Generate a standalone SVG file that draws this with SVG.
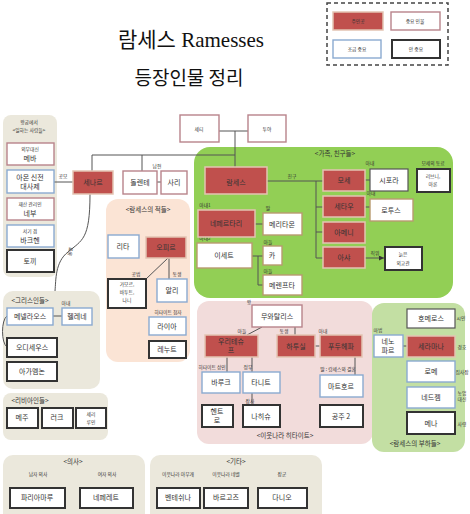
<svg xmlns="http://www.w3.org/2000/svg" width="470" height="514" viewBox="0 0 470 514">
<style>
.red{fill:#c0504d;stroke:#e3c4b3;stroke-width:1.5}
.pk{fill:#fff;stroke:#b8838b;stroke-width:1.4}
.bl{fill:#fff;stroke:#8aaad0;stroke-width:1.4}
.bk{fill:#fff;stroke:#333;stroke-width:2}
.br{fill:#fff;stroke:#b89a70;stroke-width:1.4}
.gy{fill:#fff;stroke:#555;stroke-width:1.2}
.t{font-family:"Noto Sans CJK KR","Noto Sans",sans-serif;font-size:7px;fill:#333;text-anchor:middle}
.s{font-family:"Noto Sans CJK KR","Noto Sans",sans-serif;font-size:4.8px;fill:#333;text-anchor:middle}
.h{font-family:"Noto Sans CJK KR","Noto Sans",sans-serif;font-size:6.5px;fill:#333;text-anchor:middle}
.ln{fill:none;stroke:#555;stroke-width:1}
.pb{fill:#ebe8dc}
</style>
<defs>
<marker id="ar" viewBox="0 0 6 6" refX="6" refY="3" markerWidth="5" markerHeight="5" orient="auto"><path d="M0,0 L6,3 L0,6 z" fill="#333"/></marker>
</defs>
<rect width="470" height="514" fill="#fff"/>

<g id="title">
<text x="191" y="47" font-family="Liberation Serif,'Noto Sans CJK KR',serif" font-size="21" text-anchor="middle" fill="#111">람세스 Ramesses</text>
<text x="189" y="85" font-family="'Noto Sans CJK KR',sans-serif" font-size="19" text-anchor="middle" fill="#111">등장인물 정리</text>
</g>

<g id="legend">
<rect x="327" y="3" width="121" height="62" fill="none" stroke="#444" stroke-width="1.5" stroke-dasharray="4,3"/>
<rect class="red" x="333" y="12" width="50" height="18"/><text class="s" x="358" y="23">주인공</text>
<rect class="pk" x="391" y="12" width="49" height="18"/><text class="s" x="415" y="23">중요 인물</text>
<rect class="bl" x="333" y="40" width="48" height="18"/><text class="s" x="357" y="51">조금 중요</text>
<rect class="bk" x="392" y="40" width="48" height="18"/><text class="s" x="416" y="51">안 중요</text>
</g>

<g id="panels">
<rect class="pb" x="3" y="115" width="54" height="162" rx="8"/>
<rect x="194" y="147" width="259" height="151" rx="16" fill="#92cf55"/>
<rect x="106" y="199" width="84" height="163" rx="12" fill="#fbe4d5"/>
<rect class="pb" x="3" y="291" width="97" height="98" rx="10"/>
<rect class="pb" x="3" y="393" width="105" height="47" rx="8"/>
<rect x="197" y="301" width="176" height="143" rx="12" fill="#f2dcdb"/>
<rect x="372" y="303" width="93" height="149" rx="12" fill="#c3dfa3"/>
<rect class="pb" x="3" y="455" width="142" height="70" rx="10"/>
<rect class="pb" x="150" y="455" width="172" height="70" rx="10"/>
<text class="s" x="29" y="124" font-size="5.5">왕궁에서</text>
<text class="s" x="29" y="132" font-size="5.5">&lt;일하는 사람들&gt;</text>
<text class="h" x="335" y="156">&lt;가족, 친구들&gt;</text>
<text class="h" x="148" y="212">&lt;람세스의 적들&gt;</text>
<text class="h" x="30" y="303">&lt;그리스인들&gt;</text>
<text class="h" x="30" y="403">&lt;리비아인들&gt;</text>
<text class="h" x="285" y="438">&lt;이웃나라 히타이트&gt;</text>
<text class="h" x="415" y="446">&lt;람세스의 부하들&gt;</text>
<text class="h" x="73" y="464">&lt;의사&gt;</text>
<text class="h" x="236" y="464">&lt;기타&gt;</text>
</g>

<g id="connectors">
<path class="ln" d="M219,131 H248 M235,131 V167"/>
<path class="ln" d="M92,171 V155 H235 M142,155 V171"/>
<path class="ln" d="M157,182 H161"/>
<path class="ln" d="M54,182 H73"/>
<path class="ln" d="M90,194 C90,240 82,240 68,252 C55,262 56,280 55,291"/>
<path class="ln" d="M267,181 H316 M316,181 V258 M316,181 H323 M316,207 H323 M316,232 H323 M316,258 H323"/>
<path class="ln" d="M365,180 H370"/>
<path class="ln" d="M365,207 H370"/>
<path class="ln" d="M365,258 H384" marker-end="url(#ar)"/>
<path class="ln" d="M255,224 H263"/>
<path class="ln" d="M252,256 H258 M258,256 V285 M258,256 H263 M258,285 H263"/>
<path class="ln" d="M168,258 L146,279 M169,258 V279"/>
<path class="ln" d="M53,316 H62"/>
<path class="ln" d="M7,316 C1,320 1,343 7,347"/>
<path class="ln" d="M262,327 L247,335 M295,327 V335"/>
<path class="ln" d="M315,346 H320"/>
<path class="ln" d="M227,357 V372 M252,357 V372 M252,393 V405 M355,357 V375"/>
<path class="ln" d="M403,346 H407"/>
</g>

<g id="labels">
<text class="s" x="63" y="178">공모</text>
<text class="s" x="157" y="168">남편</text>
<text class="s" x="72" y="252" transform="rotate(-80 72 252)">동맹</text>
<text class="s" x="292" y="178">친구</text>
<text class="s" x="370" y="165">아내</text>
<text class="s" x="433" y="165">모세의 동료</text>
<text class="s" x="371" y="195">아내</text>
<text class="s" x="375" y="255">직위</text>
<text class="s" x="205" y="207">아내1</text>
<text class="s" x="268" y="210">딸</text>
<text class="s" x="205" y="240">아내2</text>
<text class="s" x="268" y="244">아들</text>
<text class="s" x="268" y="273">아들</text>
<text class="s" x="136" y="276">공범</text>
<text class="s" x="177" y="276">동생</text>
<text class="s" x="168" y="314">히타이트 첩자</text>
<text class="s" x="66" y="305">아내</text>
<text class="s" x="249" y="304">왕</text>
<text class="s" x="242" y="333">아들</text>
<text class="s" x="284" y="333">동생</text>
<text class="s" x="323" y="333">아내</text>
<text class="s" x="212" y="369">히타이트 상인</text>
<text class="s" x="248" y="369">정부</text>
<text class="s" x="250" y="403">장사</text>
<text class="s" x="338" y="371">딸 : 람세스와 결혼</text>
<text class="s" x="378" y="332">마법</text>
<text class="s" x="461" y="320">시인</text>
<text class="s" x="462" y="349">경호</text>
<text class="s" x="462" y="374">집사장</text>
<text class="s" x="462" y="395">농업</text>
<text class="s" x="462" y="401">대신</text>
<text class="s" x="462" y="426">사령</text>
<text class="s" x="38" y="476">남자 의사</text>
<text class="s" x="107" y="476">여자 의사</text>
<text class="s" x="178" y="476">이웃나라 아무개</text>
<text class="s" x="226" y="476">이웃나라 네벨</text>
<text class="s" x="282" y="476">장군</text>
</g>

<g id="n-seti"><rect class="pk" x="180" y="115" width="39" height="27"/><text class="s" x="199" y="131">세티</text></g>
<g id="n-tuya"><rect class="pk" x="248" y="115" width="38" height="27"/><text class="s" x="267" y="131">투야</text></g>
<g id="n-ramses"><rect class="red" x="205" y="167" width="62" height="27"/><text class="t" x="236" y="185" font-size="12">람세스</text></g>
<g id="n-shaanar"><rect class="red" x="73" y="171" width="40" height="23"/><text class="t" x="93" y="185">세나르</text></g>
<g id="n-dolente"><rect class="pk" x="123" y="171" width="34" height="23"/><text class="t" x="140" y="185">돌렌테</text></g>
<g id="n-sary"><rect class="pk" x="161" y="171" width="26" height="23"/><text class="t" x="174" y="185">사리</text></g>

<g id="n-meba"><rect class="pk" x="7" y="143" width="47" height="22"/><text class="s" x="30" y="151">외무대신</text><text class="t" x="30" y="161">메바</text></g>
<g id="n-priest"><rect class="bl" x="7" y="170" width="47" height="23"/><text class="t" x="30" y="180" font-size="6.5">아몬 신전</text><text class="t" x="30" y="189" font-size="6.5">대사제</text></g>
<g id="n-nebou"><rect class="pk" x="7" y="198" width="47" height="22"/><text class="s" x="30" y="206">재산 관리인</text><text class="t" x="30" y="216">네부</text></g>
<g id="n-bakhen"><rect class="bl" x="7" y="225" width="47" height="22"/><text class="s" x="30" y="233">서기 겸</text><text class="t" x="30" y="243">바크헨</text></g>
<g id="n-toki"><rect class="bk" x="7" y="250" width="47" height="22"/><text class="t" x="30" y="264">토끼</text></g>

<g id="n-moses"><rect class="red" x="323" y="170" width="42" height="21"/><text class="t" x="344" y="183">모세</text></g>
<g id="n-setau"><rect class="red" x="323" y="196" width="42" height="21"/><text class="t" x="344" y="209">세타우</text></g>
<g id="n-ameni"><rect class="red" x="323" y="222" width="42" height="21"/><text class="t" x="344" y="235">아메니</text></g>
<g id="n-acha"><rect class="red" x="323" y="247" width="42" height="21"/><text class="t" x="344" y="260">아샤</text></g>
<g id="n-sipora"><rect class="gy" x="370" y="169" width="38" height="22"/><text class="t" x="389" y="183">시포라</text></g>
<g id="n-libni"><rect class="bk" x="417" y="169" width="33" height="23"/><text class="s" x="433" y="178">리브니,</text><text class="s" x="433" y="186">아론</text></g>
<g id="n-lotus"><rect class="br" x="370" y="199" width="43" height="22"/><text class="t" x="391" y="213">로투스</text></g>
<g id="n-diplomat"><rect class="bk" x="385" y="247" width="37" height="23"/><text class="s" x="403" y="256">늙은</text><text class="s" x="403" y="265">외교관</text></g>
<g id="n-nefertari"><rect class="red" x="198" y="210" width="57" height="27"/><text class="t" x="226" y="226">네페르타리</text></g>
<g id="n-meritamon"><rect class="br" x="263" y="213" width="39" height="22"/><text class="t" x="282" y="227">메리타몬</text></g>
<g id="n-iset"><rect class="br" x="197" y="243" width="55" height="25"/><text class="t" x="224" y="258">이세트</text></g>
<g id="n-kha"><rect class="br" x="263" y="246" width="19" height="19"/><text class="t" x="272" y="258">카</text></g>
<g id="n-merenptah"><rect class="br" x="263" y="275" width="39" height="20"/><text class="t" x="282" y="288">메렌프타</text></g>

<g id="n-lita"><rect class="bl" x="108" y="235" width="31" height="23"/><text class="t" x="123" y="249">리타</text></g>
<g id="n-ofir"><rect class="red" x="146" y="237" width="40" height="21"/><text class="t" x="166" y="250">오피르</text></g>
<g id="n-accomplices"><rect class="bk" x="108" y="279" width="38" height="29"/><text class="s" x="127" y="286">가모르,</text><text class="s" x="127" y="294">바투트,</text><text class="s" x="127" y="302">나니</text></g>
<g id="n-ali"><rect class="bl" x="157" y="279" width="30" height="23"/><text class="t" x="172" y="293">알리</text></g>
<g id="n-raia"><rect class="bl" x="149" y="317" width="37" height="18"/><text class="t" x="167" y="329">라이아</text></g>
<g id="n-renut"><rect class="bk" x="149" y="341" width="37" height="17"/><text class="t" x="167" y="352">레누트</text></g>

<g id="n-menelaus"><rect class="bl" x="7" y="308" width="46" height="17"/><text class="t" x="30" y="319">메넬라오스</text></g>
<g id="n-helen"><rect class="bl" x="62" y="308" width="30" height="17"/><text class="t" x="77" y="319">헬레네</text></g>
<g id="n-odysseus"><rect class="bk" x="7" y="338" width="50" height="19"/><text class="t" x="32" y="350">오디세우스</text></g>
<g id="n-agamemnon"><rect class="bk" x="7" y="362" width="50" height="19"/><text class="t" x="32" y="374">아가멤논</text></g>

<g id="n-meju"><rect class="bk" x="7" y="408" width="31" height="20"/><text class="t" x="22" y="420">메주</text></g>
<g id="n-reok"><rect class="bk" x="42" y="408" width="31" height="20"/><text class="t" x="57" y="420">러크</text></g>
<g id="n-seri"><rect class="bk" x="76" y="408" width="30" height="20"/><text class="s" x="91" y="416">세리</text><text class="s" x="91" y="424">루인</text></g>

<g id="n-muwatallis"><rect class="pk" x="252" y="305" width="50" height="22"/><text class="t" x="277" y="319">무와탈리스</text></g>
<g id="n-urhi"><rect class="red" x="205" y="335" width="53" height="22"/><text class="t" x="231" y="344">우리테슈</text><text class="t" x="231" y="353">프</text></g>
<g id="n-hattusili"><rect class="red" x="277" y="335" width="38" height="22"/><text class="t" x="296" y="349">하투실</text></g>
<g id="n-puduhepa"><rect class="red" x="320" y="335" width="42" height="22"/><text class="t" x="341" y="349">푸두헤파</text></g>
<g id="n-baruk"><rect class="bl" x="202" y="372" width="38" height="21"/><text class="t" x="221" y="385">바루크</text></g>
<g id="n-tanit"><rect class="bl" x="243" y="372" width="37" height="21"/><text class="t" x="261" y="385">타니트</text></g>
<g id="n-hentro"><rect class="bk" x="202" y="405" width="31" height="22"/><text class="t" x="217" y="414">헨트</text><text class="t" x="217" y="423">로</text></g>
<g id="n-nahishu"><rect class="bk" x="243" y="405" width="37" height="22"/><text class="t" x="261" y="419">나히슈</text></g>
<g id="n-mathor"><rect class="bl" x="320" y="375" width="43" height="22"/><text class="t" x="341" y="389">마트호르</text></g>
<g id="n-princess2"><rect class="bk" x="320" y="405" width="43" height="22"/><text class="t" x="341" y="419">공주 2</text></g>

<g id="n-homer"><rect class="gy" x="407" y="309" width="48" height="19"/><text class="t" x="431" y="321">호메로스</text></g>
<g id="n-serramanna"><rect class="red" x="407" y="336" width="48" height="21"/><text class="t" x="431" y="349" fill="#f3dada">세라마나</text></g>
<g id="n-rome"><rect class="bl" x="407" y="361" width="48" height="21"/><text class="t" x="431" y="374">로메</text></g>
<g id="n-nedjem"><rect class="bl" x="407" y="387" width="48" height="21"/><text class="t" x="431" y="400">네드젬</text></g>
<g id="n-mena"><rect class="bk" x="407" y="412" width="48" height="22"/><text class="t" x="431" y="426">메나</text></g>
<g id="n-nenofar"><rect class="bl" x="374" y="335" width="29" height="22"/><text class="t" x="388" y="344">네노</text><text class="t" x="388" y="353">파르</text></g>

<g id="n-pariamaru"><rect class="bk" x="10" y="488" width="55" height="20"/><text class="t" x="37" y="500">파리아마루</text></g>
<g id="n-neferet"><rect class="bk" x="80" y="488" width="53" height="20"/><text class="t" x="106" y="500">네페레트</text></g>
<g id="n-benteshina"><rect class="bk" x="157" y="488" width="43" height="20"/><text class="t" x="178" y="500">벤테쉬나</text></g>
<g id="n-bargoz"><rect class="bk" x="204" y="488" width="44" height="20"/><text class="t" x="226" y="500">바르고즈</text></g>
<g id="n-danio"><rect class="bk" x="258" y="488" width="49" height="20"/><text class="t" x="282" y="500">다니오</text></g>
</svg>
